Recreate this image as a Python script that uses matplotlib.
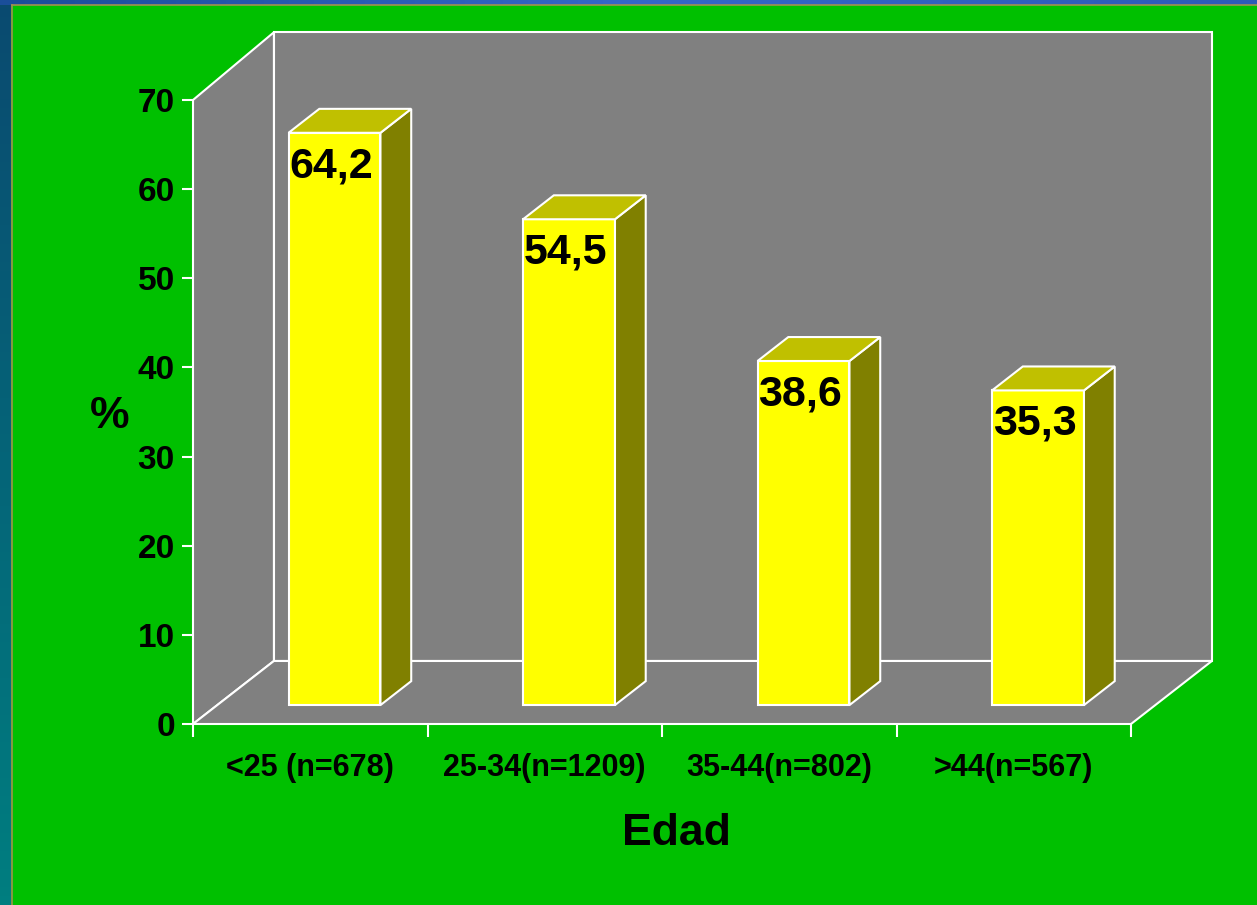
import numpy as np
import matplotlib.pyplot as plt
from matplotlib.patches import Polygon, Rectangle
from matplotlib.colors import LinearSegmentedColormap

grupos = ['<25 (n=678)', '25-34(n=1209)', '35-44(n=802)', '>44(n=567)']
porcentajes = [64.2, 54.5, 38.6, 35.3]
etiquetas = ['64,2', '54,5', '38,6', '35,3']
yticks = [0, 10, 20, 30, 40, 50, 60, 70]

plt.rcParams['font.family'] = ['Liberation Sans', 'DejaVu Sans']
plt.rcParams['font.weight'] = 'bold'

fig = plt.figure(figsize=(12.57, 9.05), dpi=100)
fig.patch.set_facecolor('#00C000')

# franjas del fondo de la diapositiva
grad = fig.add_axes([0, 0, 11 / 1257, 1])
grad.imshow(np.linspace(0, 1, 100).reshape(-1, 1), aspect='auto',
            cmap=LinearSegmentedColormap.from_list('g', ['#0A4A70', '#007E80']),
            extent=[0, 1, 0, 1], origin='upper')
grad.axis('off')
top = fig.add_axes([0, 1 - 5 / 905, 1, 5 / 905])
top.imshow(np.linspace(0, 1, 100).reshape(1, -1), aspect='auto',
           cmap=LinearSegmentedColormap.from_list('t', ['#1A4E9A', '#3468C8', '#2C5CB8']))
top.axis('off')
fig.add_artist(plt.Line2D([11.5 / 1257, 11.5 / 1257], [0, 1 - 5 / 905], color='#A09050', lw=1.2, transform=fig.transFigure))
fig.add_artist(plt.Line2D([11.5 / 1257, 1], [1 - 5.5 / 905, 1 - 5.5 / 905], color='#A09050', lw=1.2, transform=fig.transFigure))

ax = fig.add_axes([193 / 1257, 1 - 724 / 905, 938 / 1257, 624 / 905])
ax.set_xlim(0, 4)
ax.set_ylim(0, 70)
ax.patch.set_visible(False)
for s in ax.spines.values():
    s.set_visible(False)

DX, DY = 0.345, 7.07   # profundidad 3D
TOP = 77.6             # borde superior de la pared del fondo
gris = '#808080'
lw = 1.5
kw = dict(clip_on=False, edgecolor='white', lw=lw, joinstyle='miter')

# paredes y suelo
ax.add_patch(Polygon([(DX, DY), (4 + DX, DY), (4 + DX, TOP), (DX, TOP)], facecolor=gris, zorder=1, **kw))
ax.add_patch(Polygon([(0, 0), (DX, DY), (DX, TOP), (0, 70)], facecolor=gris, zorder=1, **kw))
ax.add_patch(Polygon([(0, 0), (4, 0), (4 + DX, DY), (DX, DY)], facecolor=gris, zorder=1, **kw))

# barras 3D
hw = 0.196
f1, f2 = 0.30, 0.68
ddx, ddy = (f2 - f1) * DX, (f2 - f1) * DY
for i, (v, lab) in enumerate(zip(porcentajes, etiquetas)):
    x0 = i + 0.5 - hw + f1 * DX
    y0 = f1 * DY
    yt = y0 + v
    xr = x0 + 2 * hw
    ax.add_patch(Rectangle((x0, y0), 2 * hw, v, facecolor='#FFFF00', zorder=3, **kw))
    ax.add_patch(Polygon([(xr, y0), (xr + ddx, y0 + ddy), (xr + ddx, yt + ddy), (xr, yt)],
                         facecolor='#808000', zorder=3, **kw))
    ax.add_patch(Polygon([(x0, yt), (x0 + ddx, yt + ddy), (xr + ddx, yt + ddy), (xr, yt)],
                         facecolor='#C0C000', zorder=3, **kw))
    ax.text(x0 + hw - 0.015, yt - 1.5, lab, ha='center', va='top', fontsize=31,
            fontweight='bold', color='black', zorder=5)

ax.set_yticks(yticks)
ax.set_yticklabels([str(t) for t in yticks], fontsize=24, fontweight='bold')
ax.set_xticks([0, 1, 2, 3, 4])
ax.set_xticklabels([])
ax.set_xticks([0.5, 1.5, 2.5, 3.5], minor=True)
ax.set_xticklabels(grupos, minor=True, fontsize=22, fontweight='bold')
ax.tick_params(axis='y', colors='white', length=8, width=1.5, pad=5, labelcolor='black')
ax.tick_params(axis='x', which='major', colors='white', length=9.5, width=1.5)
ax.tick_params(axis='x', which='minor', length=0, pad=21, labelcolor='black')

ax.set_ylabel('%', rotation=0, fontsize=32, fontweight='bold', ha='center', va='center')
ax.yaxis.set_label_coords(-0.0885, 0.492)
ax.set_xlabel('Edad', fontsize=32, fontweight='bold', ha='center', va='center')
ax.xaxis.set_label_coords(0.515, -0.175)

fig.savefig('out.png', dpi=100, facecolor=fig.get_facecolor())
